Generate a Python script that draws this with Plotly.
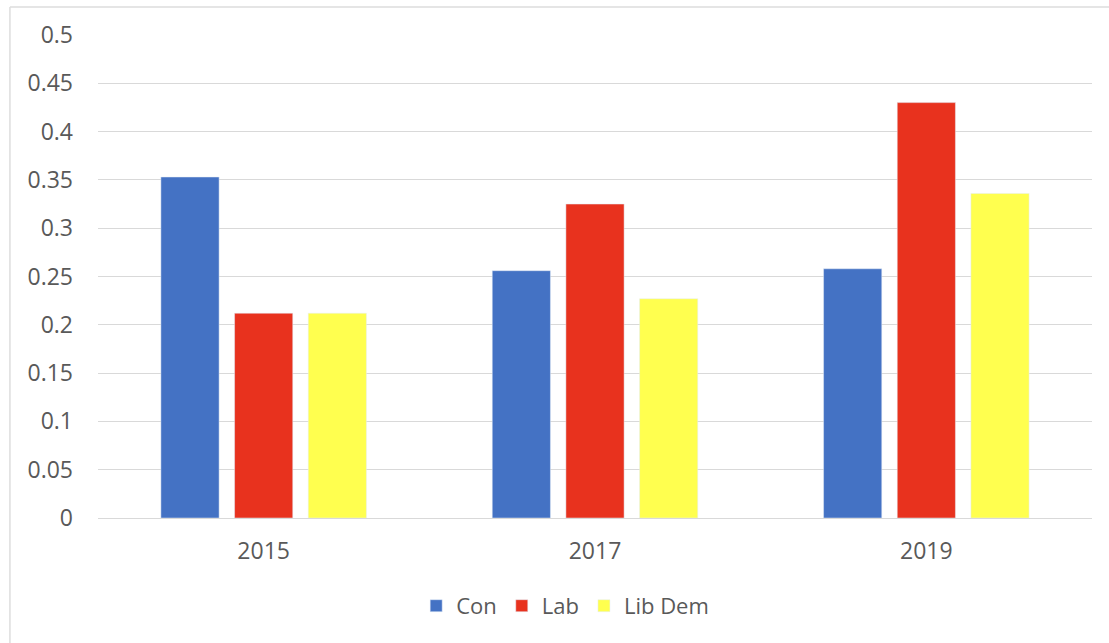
import plotly.graph_objects as go

years = ["2015", "2017", "2019"]
con = [0.353, 0.256, 0.258]
lab = [0.212, 0.325, 0.430]
libdem = [0.212, 0.227, 0.336]
y_ticks = [0, 0.05, 0.1, 0.15, 0.2, 0.25, 0.3, 0.35, 0.4, 0.45, 0.5]
y_labels = ["0", "0.05", "0.1", "0.15", "0.2", "0.25", "0.3", "0.35", "0.4", "0.45", "0.5"]

fig = go.Figure()
fig.add_trace(go.Bar(x=years, y=con, name="Con", marker=dict(color="#4472C4")))
fig.add_trace(go.Bar(x=years, y=lab, name="Lab", marker=dict(color="#E8321E")))
fig.add_trace(go.Bar(x=years, y=libdem, name="Lib Dem", marker=dict(color="#FFFF4F")))

fig.update_layout(
    width=1109, height=643,
    margin=dict(l=98, r=17, t=35, b=125),
    paper_bgcolor="white", plot_bgcolor="white",
    barmode="group", bargap=0.333, bargroupgap=0.21,
    font=dict(family="Open Sans, Liberation Sans, sans-serif", color="#595959", size=22),
    legend=dict(orientation="h", x=0.47, xanchor="center", y=-0.182, yanchor="middle",
                font=dict(size=22, color="#595959"), itemwidth=30, tracegroupgap=0),
    xaxis=dict(showgrid=False, showline=False, ticks="", tickfont=dict(size=23),
               ticklabelstandoff=17),
    yaxis=dict(range=[0, 0.5], tickvals=y_ticks, ticktext=y_labels, showgrid=True,
               gridcolor="#D9D9D9", gridwidth=1.3, zeroline=True, zerolinecolor="#D9D9D9",
               zerolinewidth=1.3, ticks="", ticklabelstandoff=24, tickfont=dict(size=23)),
    shapes=[
        dict(type="line", xref="paper", yref="paper", x0=-0.0886, x1=1.02, y0=1.058, y1=1.058,
             line=dict(color="#DDDDDD", width=1.5)),
        dict(type="line", xref="paper", yref="paper", x0=-0.0886, x1=-0.0886, y0=1.058, y1=-0.26,
             line=dict(color="#DDDDDD", width=1.5)),
    ],
)

fig.write_html("out.html")
